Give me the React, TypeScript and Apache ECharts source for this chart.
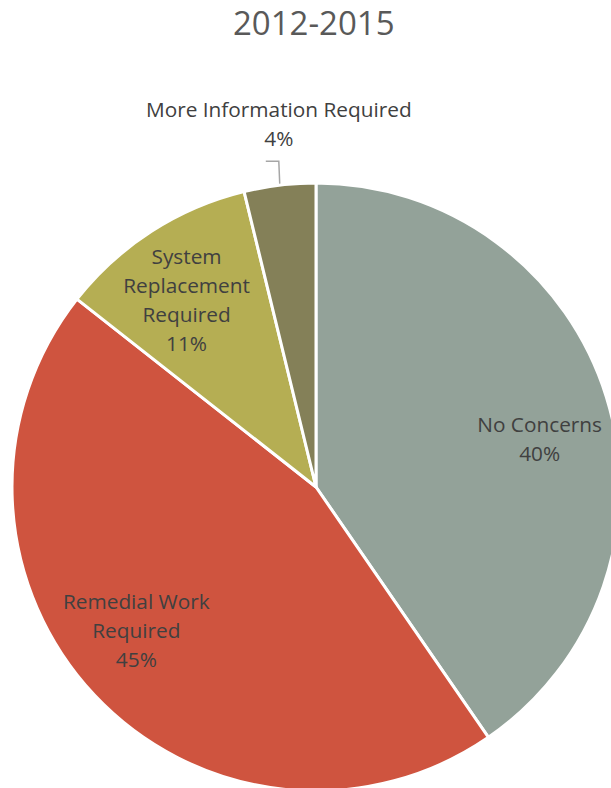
import React, { useEffect, useRef } from "react";
import * as echarts from "echarts";

const titleText = "2012-2015";
const categories = [
  "No Concerns",
  "Remedial Work Required",
  "System Replacement Required",
  "More Information Required",
];
const labelNames = [
  "No Concerns",
  "Remedial Work\nRequired",
  "System\nReplacement\nRequired",
  "More Information Required",
];
const values = [40.4, 45.2, 10.6, 3.8];
const colors = ["#93A299", "#CF543F", "#B5AE53", "#848058"];
// small style nudges of the inside labels (px)
const labelShift = [
  [4, 20],
  [-12, -14],
  [-5, 6],
  [0, 0],
];

const FONT = "'Open Sans', 'Noto Sans', sans-serif";

export default function App() {
  const ref = useRef<HTMLDivElement>(null);
  useEffect(() => {
    document.body.style.margin = "0";
    const chart = echarts.init(ref.current!, null, { renderer: "svg" });
    const fmt = (p: any) => `${labelNames[p.dataIndex]}\n${Math.round(p.percent)}%`;
    const center = [316, 487];
    const labelStyle = {
      formatter: fmt,
      fontFamily: FONT,
      fontSize: 20.8,
      lineHeight: 29,
      color: "#404040",
      align: "center",
    };
    chart.setOption({
      animation: false,
      title: {
        text: titleText,
        left: 228,
        top: 0,
        padding: [6, 5, 4, 5],
        textStyle: { fontFamily: FONT, fontSize: 33, fontWeight: "normal", color: "#595959" },
      },
      series: [
        {
          type: "pie",
          center,
          radius: 304,
          startAngle: 90,
          clockwise: true,
          silent: true,
          itemStyle: { borderColor: "#ffffff", borderWidth: 3 },
          labelLine: {
            show: true,
            length: 10,
            length2: 12,
            lineStyle: { color: "#A6A6A6", width: 1.5 },
          },
          labelLayout: (params: any) => {
            if (params.dataIndex !== 3 || !params.labelLinePoints) return {};
            const p0 = params.labelLinePoints[0];
            const p1 = [p0[0] - 1, p0[1] - 24];
            const p2 = [p1[0] - 13, p1[1]];
            return {
              x: p0[0] - 1,
              y: p1[1] - 9,
              align: "center",
              verticalAlign: "bottom",
              labelLinePoints: [p0, p1, p2],
            };
          },
          data: categories.map((c, i) => ({
            name: c,
            value: values[i],
            itemStyle: { color: colors[i] },
            label:
              i === 3
                ? { show: true, position: "outside", overflow: "none", width: 400, ...labelStyle }
                : { show: false },
            labelLine: { show: i === 3 },
          })),
        },
        {
          type: "pie",
          center,
          radius: [150, 304],
          startAngle: 90,
          clockwise: true,
          silent: true,
          z: 5,
          itemStyle: { color: "transparent", borderWidth: 0 },
          label: { show: true, position: "inside", ...labelStyle },
          labelLine: { show: false },
          labelLayout: (params: any) => ({
            dx: labelShift[params.dataIndex][0],
            dy: labelShift[params.dataIndex][1],
          }),
          data: categories.map((c, i) => ({
            name: c,
            value: values[i],
            label: { show: i !== 3 },
          })),
        },
      ],
    });
    return () => chart.dispose();
  }, []);
  return <div ref={ref} style={{ position: "absolute", left: 0, top: 0, width: 611, height: 788 }} />;
}
